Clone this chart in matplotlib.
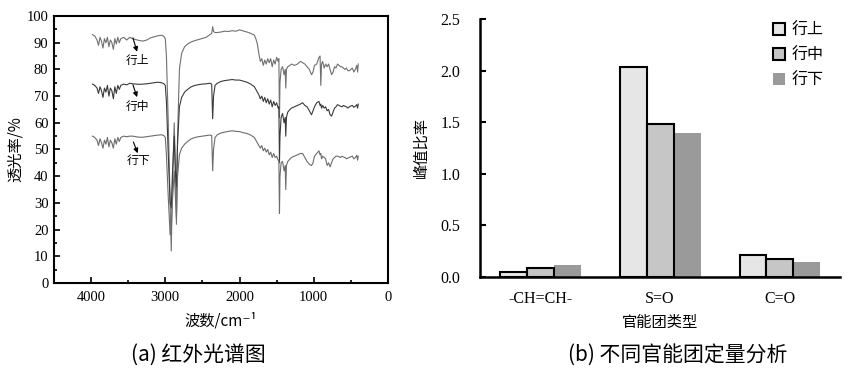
import numpy as np
import matplotlib
matplotlib.use("Agg")
import matplotlib.pyplot as plt

plt.rcParams["font.family"] = ["Liberation Serif", "Noto Sans CJK SC"]
CJK = ["Noto Sans CJK SC", "DejaVu Sans"]

# ============================================================
# DATA
# ============================================================

# (a) 红外光谱 — 波数 (cm-1), 三条曲线共用
wavenumber = [
    3980, 3950, 3920, 3900, 3880, 3860, 3840, 3820, 3800, 3780,
    3760, 3740, 3720, 3700, 3680, 3660, 3640, 3620, 3600, 3560,
    3520, 3480, 3440, 3400, 3350, 3300, 3250, 3200, 3150, 3100,
    3050, 3020, 3000, 2985, 2960, 2935, 2920, 2905, 2880, 2865,
    2850, 2835, 2810, 2780, 2740, 2700, 2650, 2600, 2550, 2500,
    2450, 2400, 2375, 2362, 2350, 2330, 2300, 2250, 2200, 2150,
    2100, 2050, 2000, 1950, 1900, 1850, 1800, 1780, 1760, 1740,
    1720, 1700, 1680, 1660, 1640, 1620, 1600, 1580, 1560, 1540,
    1520, 1500, 1480, 1470, 1462, 1455, 1440, 1420, 1400, 1385,
    1377, 1368, 1350, 1320, 1300, 1260, 1220, 1180, 1150, 1120,
    1090, 1060, 1030, 1010, 990, 960, 930, 915, 905, 895,
    880, 860, 840, 820, 800, 780, 760, 740, 720, 700,
    680, 660, 640, 620, 600, 580, 560, 540, 520, 500,
    480, 460, 440, 420, 410, 400,
]

t_upper = [
    93, 92.5, 91, 89, 92, 90.5, 88, 91.5, 90, 92,
    88.5, 91, 90, 87.5, 91.5, 89.5, 92, 90, 91.5, 92,
    91, 92, 91.5, 91.2, 90.8, 90.6, 91, 91.8, 92.2, 92.6,
    92.8, 92.4, 91.5, 85, 60, 30, 12, 35, 60, 45,
    22, 55, 80, 86, 88.5, 89.5, 90.3, 90.8, 91.2, 91.6,
    92, 93, 93.5, 96, 94.2, 93.8, 93.8, 94, 94.3, 94.2,
    94.5, 94.3, 94.8, 94.4, 94, 93.5, 92.8, 91.5, 89.5, 86,
    83, 84, 81.5, 83.5, 82, 84, 82.5, 84, 81, 83.5,
    82, 84.5, 83, 84, 62, 75, 80, 81, 78, 80,
    73, 80, 81, 81.5, 82, 81.5, 82, 83, 82.5, 82,
    81, 80, 78, 79, 81.5, 82, 84.5, 85, 74, 82,
    83, 80.5, 82, 81, 82, 80, 78, 79, 81, 80.5,
    82, 81.5, 81, 81, 80.5, 80, 80.5, 79.5, 79.5, 80,
    80.5, 79, 80, 81.5, 79, 82,
]

t_middle = [
    74.5, 74, 73, 71, 73.5, 72, 69.5, 73, 71.5, 74,
    70, 73, 72, 69, 73.5, 71, 74, 72.5, 74, 74.5,
    74.2, 74.8, 74.6, 74.5, 74.4, 74.5, 74.6, 74.8, 75, 75.2,
    75, 74.6, 74, 68, 48, 30, 28, 40, 55, 42,
    36, 52, 66, 69.5, 71.5, 72.5, 73.5, 74, 74.3, 74.5,
    74.6, 74.8, 74.5, 61.5, 70, 74, 74.8, 75.5, 75.8, 76,
    76.2, 76, 76, 75.6, 75.2, 74.5, 73.5, 72.5, 71.5, 70.5,
    69, 70, 68, 69.5, 67.5, 69, 67, 68.5, 66, 68,
    66.5, 67.5, 65.5, 66, 45, 55, 62, 63.5, 60, 62,
    55, 62, 64, 65, 65.5, 66, 66.5, 67, 67.5, 66.5,
    66, 64.5, 63, 64.5, 66, 67.5, 68, 66.5, 67, 65.5,
    66.5, 65.5, 66, 64.5, 65, 63, 62.5, 64, 65.5, 66,
    66.8, 66.5, 66.2, 66, 66.5, 66.2, 66, 65.5, 66, 66.3,
    66.5, 65.8, 66.2, 66.8, 65.5, 67,
]

t_lower = [
    55, 54.5, 53.5, 51.5, 54, 52.5, 50.5, 53.5, 52, 54.5,
    51, 53.5, 52.5, 50.5, 54, 52, 54.5, 53, 54.5, 55,
    54.8, 55, 55, 54.8, 54.6, 54.6, 54.8, 55, 55.2, 55.4,
    55.5, 55.2, 54.5, 48, 32, 18, 20, 30, 42, 33,
    24, 40, 48, 50.5, 52, 53, 54, 54.5, 54.8, 55,
    55.2, 55.4, 55.2, 42, 50, 54.5, 55.5, 56.2, 56.5, 56.8,
    57, 56.8, 56.7, 56.3, 56, 55.4, 54.5, 53.5, 52.5, 51.5,
    50.5, 51.5, 49.5, 50.5, 49, 50, 48, 49, 47, 48.5,
    47, 47.5, 46, 46, 26, 40, 45, 45.5, 42, 44,
    35, 44, 45.5, 46.5, 47, 47.5, 48, 48.5, 48.5, 47,
    45.5, 44.5, 44, 45, 47.5, 48.5, 49.5, 48, 48.5, 46.5,
    47.5, 47, 46.5, 44, 45, 43.5, 45, 46.5, 47, 47.5,
    47.5, 47.3, 47, 47.5, 47.2, 47, 46.5, 46.8, 47, 47.3,
    47.5, 46.5, 47, 47.8, 46, 47.5,
]

series_names = ["行上", "行中", "行下"]

# (b) 不同官能团定量分析 — 峰值比率
groups = ["-CH=CH-", "S=O", "C=O"]
ratio_upper = [0.05, 2.03, 0.21]
ratio_middle = [0.09, 1.48, 0.175]
ratio_lower = [0.12, 1.40, 0.15]

# ============================================================
# FIGURE
# ============================================================

fig = plt.figure(figsize=(8.46, 3.89), dpi=100)
ax1 = fig.add_axes([0.0638, 0.2725, 0.3948, 0.6864])
ax2 = fig.add_axes([0.5674, 0.2879, 0.4255, 0.6633])

# ---------------- (a) ----------------
line_colors = ["#707070", "#3a3a3a", "#6c6c6c"]
for t, c in zip([t_upper, t_middle, t_lower], line_colors):
    ax1.plot(wavenumber, t, color=c, lw=0.8)

ax1.set_xlim(4500, 0)
ax1.set_ylim(0, 100)
ax1.set_xticks([4000, 3000, 2000, 1000, 0])
ax1.set_xticks([3500, 2500, 1500, 500], minor=True)
ax1.set_yticks(np.arange(0, 101, 10))
ax1.set_yticks(np.arange(5, 100, 10), minor=True)
ax1.tick_params(which="both", direction="in", top=False, right=False,
                labelsize=10.5, width=1.2)
ax1.tick_params(which="major", length=4)
ax1.tick_params(which="minor", length=2.5)
ax1.tick_params(axis="y", pad=4)
ax1.tick_params(axis="x", pad=6)
for s in ax1.spines.values():
    s.set_linewidth(1.5)

ax1.set_xlabel("波数/cm⁻¹", family=CJK, fontsize=11, labelpad=6)
ax1.set_ylabel("透光率/%", family=CJK, fontsize=11, labelpad=2)

# 曲线标注
arrow_kw = dict(arrowstyle="-|>", color="black", lw=0.8,
                mutation_scale=7, shrinkA=0, shrinkB=0)
label_pos = [(3370, 83.5), (3380, 66), (3360, 46)]
arrow_from = [(3436, 91.8), (3436, 74.2), (3430, 52.8)]
arrow_to = [(3380, 86.6), (3380, 69.6), (3372, 48.6)]
for name, lp, a0, a1 in zip(series_names, label_pos, arrow_from, arrow_to):
    ax1.annotate("", xy=a1, xytext=a0, arrowprops=arrow_kw)
    ax1.text(lp[0], lp[1], name, family=CJK, fontsize=8.5,
             ha="center", va="center")

# ---------------- (b) ----------------
x = np.arange(len(groups))
w = 0.225
ax2.bar(x - w, ratio_upper, w, color="#e6e6e6", edgecolor="black",
        linewidth=1.5, label=series_names[0], zorder=3)
ax2.bar(x, ratio_middle, w, color="#c6c6c6", edgecolor="black",
        linewidth=1.5, label=series_names[1], zorder=3)
ax2.bar(x + w, ratio_lower, w, color="#9a9a9a", edgecolor="none",
        label=series_names[2], zorder=2)

ax2.set_xlim(-0.5, 2.5)
ax2.set_ylim(0, 2.5)
ax2.set_xticks(x)
ax2.set_xticklabels(groups)
ax2.set_yticks(np.arange(0, 2.51, 0.5))
ax2.yaxis.set_major_formatter(plt.FormatStrFormatter("%.1f"))
ax2.tick_params(axis="y", direction="in", length=4, width=1.5,
                labelsize=11.5, pad=14)
ax2.tick_params(axis="x", length=0, labelsize=11.5, pad=10)
ax2.spines["top"].set_visible(False)
ax2.spines["right"].set_visible(False)
ax2.spines["left"].set_linewidth(1.8)
ax2.spines["bottom"].set_linewidth(1.8)

ax2.set_xlabel("官能团类型", family=CJK, fontsize=11, labelpad=5)
ax2.set_ylabel("峰值比率", family=CJK, fontsize=11, labelpad=8)

ax2.legend(loc="upper left", bbox_to_anchor=(0.815, 0.99), frameon=False,
           prop={"family": CJK, "size": 11.5}, handlelength=0.75,
           handleheight=0.75, handletextpad=0.4, labelspacing=0.5,
           borderpad=0, borderaxespad=0)

# 子图标题
fig.text(198 / 846, 1 - 355 / 389, "(a) 红外光谱图", family=CJK,
         fontsize=15, ha="center", va="center")
fig.text(678 / 846, 1 - 355 / 389, "(b) 不同官能团定量分析", family=CJK,
         fontsize=15, ha="center", va="center")

fig.savefig("out.png", dpi=100)
plt.close(fig)
